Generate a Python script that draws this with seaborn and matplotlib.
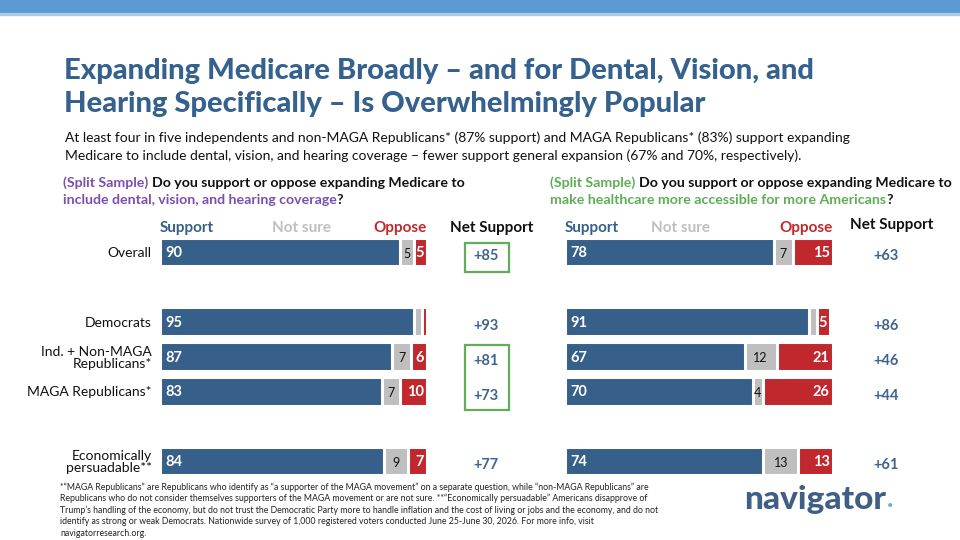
import numpy as np
import pandas as pd
import seaborn as sns
import matplotlib.pyplot as plt
from matplotlib.patches import Rectangle

# rows (None = spacer slot)
rows = ["Overall", None, "Democrats", "Ind. + Non-MAGA\nRepublicans*", "MAGA Republicans*", None,
        "Economically\npersuadable**"]

# left question: dental, vision, hearing
left_support = [90, None, 95, 87, 83, None, 84]
left_notsure = [5, None, 3, 7, 7, None, 9]
left_oppose = [5, None, 2, 6, 10, None, 7]
left_net = ["+85", None, "+93", "+81", "+73", None, "+77"]

# right question: healthcare more accessible
right_support = [78, None, 91, 67, 70, None, 74]
right_notsure = [7, None, 3, 12, 4, None, 13]
right_oppose = [15, None, 5, 21, 26, None, 13]
right_net = ["+63", None, "+86", "+46", "+44", None, "+61"]

BLUE = "#365F8A"
GREY = "#BFBFBF"
RED = "#C0282D"
TITLE = "#35618F"
NETC = "#3E6491"
GREEN = "#62AD5A"
PURPLE = "#7A4FB0"
LGREEN = "#5FAD56"

sns.set_theme(style="white")
plt.rcParams["font.family"] = ["Lato", "DejaVu Sans"]

fig = plt.figure(figsize=(9.6, 5.4), dpi=100)
W, H = 960, 540


def fx(px):
    return px / W


def fy(py):
    return 1 - py / H


# top band
fig.patches.append(Rectangle((0, fy(13)), 1, 13 / H, transform=fig.transFigure, color="#5B9BD1", zorder=0))
fig.patches.append(Rectangle((0, fy(15)), 1, 2 / H, transform=fig.transFigure, color="#A9CBE9", zorder=0))

fig.text(fx(64), fy(79), "Expanding Medicare Broadly \u2013 and for Dental, Vision, and", color=TITLE,
         fontsize=21, fontweight="black", va="baseline")
fig.text(fx(64), fy(112), "Hearing Specifically \u2013 Is Overwhelmingly Popular", color=TITLE,
         fontsize=21, fontweight="black", va="baseline")

fig.text(fx(65), fy(138), "At least four in five independents and non-MAGA Republicans* (87% support) and MAGA "
         "Republicans* (83%) support expanding", fontsize=10, va="center", color="#111111")
fig.text(fx(65), fy(156), "Medicare to include dental, vision, and hearing coverage \u2013 fewer support general "
         "expansion (67% and 70%, respectively).", fontsize=10, va="center", color="#111111")

renderer = fig.canvas.get_renderer()


def text_width(s, **kw):
    t = fig.text(0, 0, s + "|", **kw)
    t2 = fig.text(0, 0, "|", **kw)
    w = t.get_window_extent(renderer).width - t2.get_window_extent(renderer).width
    t.remove()
    t2.remove()
    return w


def runs(x, y, parts, **kw):
    for s, c in parts:
        fig.text(fx(x), fy(y), s, color=c, va="center", **kw)
        x += text_width(s, **kw)
    return x


qkw = dict(fontsize=10.2, fontweight="bold")
runs(63, 183, [("(Split Sample) ", PURPLE), ("Do you support or oppose expanding Medicare to", "#111111")], **qkw)
runs(63, 200, [("include dental, vision, and hearing coverage", PURPLE), ("?", "#111111")], **qkw)
runs(550, 183, [("(Split Sample) ", LGREEN), ("Do you support or oppose expanding Medicare to", "#111111")], **qkw)
runs(550, 200, [("make healthcare more accessible for more Americans", LGREEN), ("?", "#111111")], **qkw)

slots = [f"s{i}" for i in range(len(rows))]
top_px, bot_px = 252 - 34.83 / 2, 461 + 34.83 / 2


def panel(x0, x1, support, notsure, oppose, net, show_labels, net_x, head_x, head_y):
    ax = fig.add_axes([fx(x0), fy(bot_px), (x1 - x0) / W, (bot_px - top_px) / H])
    df = pd.DataFrame({"slot": slots, "support": support, "notsure": notsure, "oppose": oppose},
                      ).astype({"support": float, "notsure": float, "oppose": float})
    df["s_ns"] = df["support"] + df["notsure"]
    df["total"] = df["s_ns"] + df["oppose"]
    for col, c in [("total", RED), ("s_ns", GREY), ("support", BLUE)]:
        sns.barplot(data=df, x=col, y="slot", order=slots, orient="h", color=c, width=0.82,
                    edgecolor="white", linewidth=2.2, saturation=1, ax=ax)
    ax.set_xlim(0, 100)
    ax.set_ylim(len(rows) - 0.5, -0.5)
    ax.set_xlabel("")
    ax.set_ylabel("")
    ax.set_xticks([])
    if show_labels:
        ax.set_yticks(range(len(rows)))
        ax.set_yticklabels([r if r else "" for r in rows], fontsize=10, color="#111111",
                           linespacing=1.05)
        ax.tick_params(axis="y", length=0, pad=6)
    else:
        ax.set_yticks([])
    sns.despine(ax=ax, left=True, bottom=True)

    for i, r in df.iterrows():
        if np.isnan(r["support"]):
            continue
        ax.text(2, i + 0.03, f"{int(r['support'])}", color="white", fontsize=10.5, fontweight="bold",
                va="center", ha="left")
        if r["notsure"] >= 4:
            ax.text(r["support"] + r["notsure"] / 2, i + 0.05, f"{int(r['notsure'])}", color="#111111",
                    fontsize=9, va="center", ha="center")
        if r["oppose"] >= 4:
            ax.text(r["total"] - 1.3, i + 0.03, f"{int(r['oppose'])}", color="white", fontsize=10.5,
                    fontweight="bold", va="center", ha="right")
        ax.text(net_x, i + 0.12, net[i], color=NETC, fontsize=10.5, fontweight="bold", va="center",
                ha="center", clip_on=False)

    hy = (228 - 252) / 34.83
    ax.text(0, hy, "Support", color=BLUE, fontsize=11, fontweight="bold", ha="left", va="center",
            clip_on=False)
    ax.text(head_x, hy, "Not sure", color=GREY, fontsize=11, fontweight="bold", ha="center",
            va="center", clip_on=False)
    ax.text(100, hy, "Oppose", color=RED, fontsize=11, fontweight="bold", ha="right", va="center",
            clip_on=False)
    ax.text(net_x + 2, head_y, "Net Support", color="#111111", fontsize=11, fontweight="bold",
            ha="center", va="center", clip_on=False)
    return ax


axl = panel(160, 427, left_support, left_notsure, left_oppose, left_net, True, 122.1, 53, -0.69)
axr = panel(565, 833, right_support, right_notsure, right_oppose, right_net, False, 119.8, 43, -0.78)

# green highlight boxes (left panel)
for y0, y1 in [(-0.26, 0.57), (2.67, 4.54)]:
    axl.add_patch(Rectangle((114.2, y0), 16.5, y1 - y0, fill=False, edgecolor=GREEN, linewidth=1.6,
                            clip_on=False))

foot = [
    "*\u201cMAGA Republicans\u201d are Republicans who identify as \u201ca supporter of the MAGA movement\u201d on a "
    "separate question, while \u201cnon-MAGA Republicans\u201d are",
    "Republicans who do not consider themselves supporters of the MAGA movement or are not sure. "
    "**\u201cEconomically persuadable\u201d Americans disapprove of",
    "Trump\u2019s handling of the economy, but do not trust the Democratic Party more to handle inflation and "
    "the cost of living or jobs and the economy, and do not",
    "identify as strong or weak Democrats. Nationwide survey of 1,000 registered voters conducted June "
    "25-June 30, 2026. For more info, visit",
    "navigatorresearch.org.",
]
for k, line in enumerate(foot):
    fig.text(fx(60), fy(487 + 11.6 * k), line, fontsize=6.3, color="#222222", va="center")

logo_kw = dict(fontsize=24, fontweight="black")
fig.text(fx(744), fy(509), "navigator", color="#3F5F87", va="baseline", **logo_kw)
lw = text_width("navigator", **logo_kw)
fig.text(fx(744 + lw + 1), fy(509), "\u2022", color="#6FA8DC", fontsize=8, va="baseline")

fig.savefig("out.png", dpi=100)
